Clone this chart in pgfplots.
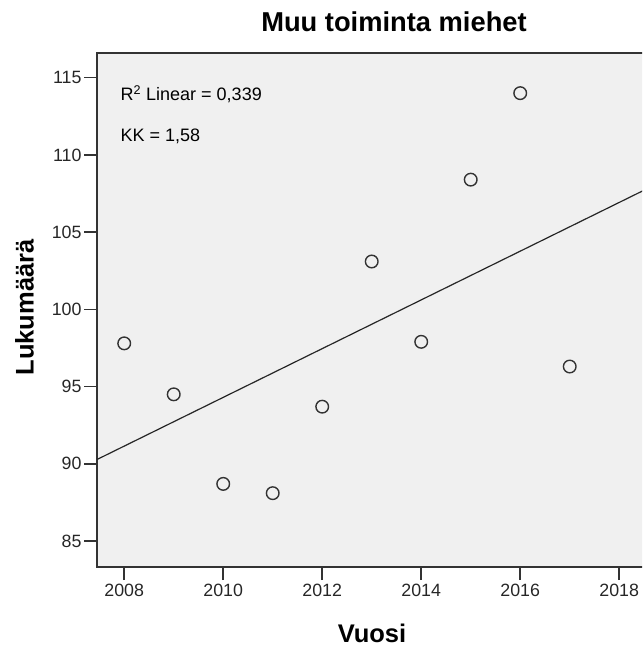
\documentclass[border=0pt]{standalone}
\usepackage{fontspec}
\setmainfont{Liberation Sans}
\usepackage{pgfplots}
\pgfplotsset{compat=1.18}
\definecolor{bg}{HTML}{F0F0F0}
\definecolor{frame}{HTML}{333333}
\begin{document}
\begin{tikzpicture}[x=1pt,y=1pt]
\useasboundingbox (0,0) rectangle (642,647);
\clip (0,0) rectangle (642,647);
\begin{axis}[
  at={(97pt,80pt)}, anchor=south west,
  scale only axis, width=593pt, height=514pt,
  xmin=2007.45, xmax=2019.43,
  ymin=83.32, ymax=116.6,
  xtick={2008,2010,...,2018},
  ytick={85,90,...,115},
  /pgf/number format/1000 sep={},
  /pgf/number format/assume math mode=true,
  tick align=outside,
  major tick length=13pt,
  tick style={frame, line width=1.5pt},
  axis line style={frame, line width=1.7pt},
  axis background/.style={fill=bg},
  ticklabel style={font=\fontsize{17.8}{20}\selectfont, text=black!85},
  xticklabel style={yshift=-1pt},
  yticklabel style={xshift=1pt},
  xtick pos=bottom, ytick pos=left,
  clip=false,
]
\addplot[black!85, line width=1.2pt] coordinates {(2007.45,90.28) (2019.43,109.18)};
\addplot[only marks, mark=o, mark size=6.3pt,
  mark options={draw=black!80, fill=bg, line width=1.4pt}]
  coordinates {
    (2008,97.8) (2009,94.5) (2010,88.7) (2011,88.1) (2012,93.7)
    (2013,103.1) (2014,97.9) (2015,108.4) (2016,114.0) (2017,96.3)
  };
\end{axis}
\node[anchor=base west, inner sep=0, font=\fontsize{18}{20}\selectfont]
  at (120.5,546) {R\textsuperscript{2} Linear = 0,339};
\node[anchor=base west, inner sep=0, font=\fontsize{18}{20}\selectfont]
  at (120.5,505.5) {KK = 1,58};
\node[anchor=base, inner sep=0, font=\bfseries\fontsize{27.3}{30}\selectfont]
  at (394,615) {Muu toiminta miehet};
\node[anchor=base, inner sep=0, font=\bfseries\fontsize{25.5}{30}\selectfont]
  at (372,5) {Vuosi};
\node[anchor=base, rotate=90, inner sep=0, font=\bfseries\fontsize{25.5}{30}\selectfont]
  at (33.5,339.5) {Lukumäärä};
\end{tikzpicture}
\end{document}
